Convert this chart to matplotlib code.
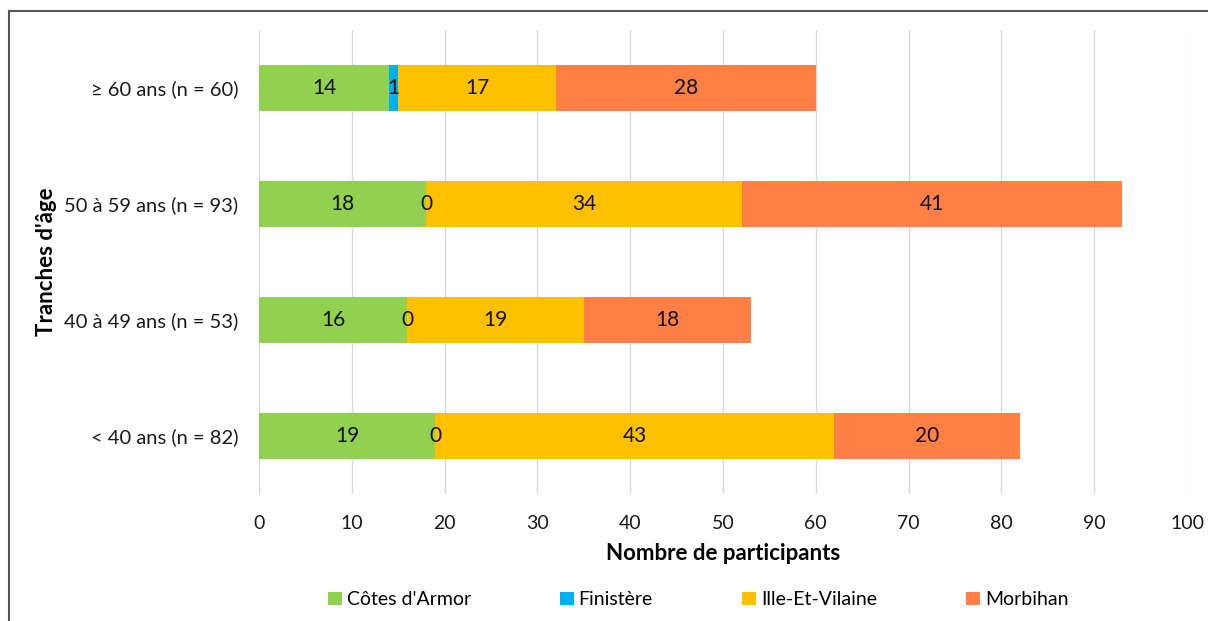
import matplotlib.pyplot as plt
from matplotlib.lines import Line2D
import numpy as np

plt.rcParams['font.family'] = ['Lato', 'DejaVu Sans']

# tranches d'âge (de bas en haut)
tranches = ["< 40 ans (n = 82)", "40 à 49 ans (n = 53)",
            "50 à 59 ans (n = 93)", "\u2265 60 ans (n = 60)"]
cotes_armor = [19, 16, 18, 14]
finistere = [0, 0, 0, 1]
ille_vilaine = [43, 19, 34, 17]
morbihan = [20, 18, 41, 28]

series = [("Côtes d'Armor", cotes_armor, "#92D050"),
          ("Finistère", finistere, "#00B0F0"),
          ("Ille-Et-Vilaine", ille_vilaine, "#FFC000"),
          ("Morbihan", morbihan, "#FF7F45")]

fig = plt.figure(figsize=(12.08, 6.21), dpi=100)
ax = fig.add_axes([0.2144, 0.2045, 0.7682, 0.7472])

y = np.arange(len(tranches))
left = np.zeros(len(tranches))
for name, vals, col in series:
    vals = np.array(vals, dtype=float)
    ax.barh(y, vals, left=left, height=0.39, color=col, label=name)
    for yi, l, v in zip(y, left, vals):
        ax.text(l + v / 2, yi, f"{int(v)}", ha="center", va="center",
                fontsize=15, color="#111111")
    left = left + vals

ax.set_xlim(0, 100)
ax.set_ylim(-0.5, 3.5)
ax.set_xticks(np.arange(0, 101, 10))
ax.set_yticks(y)
ax.set_yticklabels(tranches)
ax.tick_params(length=0, colors="#1a1a1a")
ax.tick_params(axis="x", pad=15, labelsize=14)
ax.tick_params(axis="y", pad=15, labelsize=14.5)
ax.grid(axis="x", color="#D9D9D9", lw=1)
ax.set_axisbelow(True)
for s in ax.spines.values():
    s.set_visible(False)

ax.set_xlabel("Nombre de participants", fontsize=16, fontweight="bold", labelpad=8)
ax.set_ylabel("Tranches d'âge", fontsize=16, fontweight="bold", labelpad=5)

fig.legend(loc="center", bbox_to_anchor=(0.578, 0.034), ncol=4, frameon=False,
           fontsize=14, handlelength=0.7, handleheight=0.7, handletextpad=0.25,
           columnspacing=4.6)

# cadre
fig.add_artist(Line2D([9 / 1208, 9 / 1208], [0, 1 - 11 / 621], color="#555555", lw=1.5))
fig.add_artist(Line2D([9 / 1208, 1], [1 - 11 / 621, 1 - 11 / 621], color="#555555", lw=1.5))

fig.savefig("out.png", dpi=100)
